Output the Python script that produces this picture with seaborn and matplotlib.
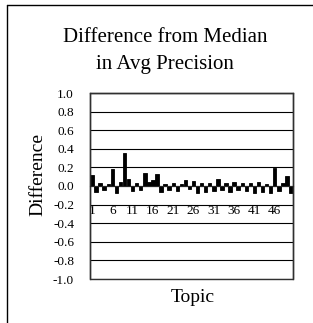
import matplotlib
matplotlib.use('Agg')
from matplotlib import pyplot as plt
from matplotlib.lines import Line2D
from matplotlib.patches import Rectangle
import seaborn as sns
import pandas as pd

# topic numbers and difference from median in average precision
topics = list(range(1, 51))
diffs = [0.12, -0.06, 0.03, -0.04, 0.02, 0.18, -0.08, 0.04, 0.35, 0.07,
         -0.05, 0.03, -0.04, 0.14, 0.04, 0.06, 0.13, -0.06, 0.02, -0.04,
         0.03, -0.05, 0.02, 0.06, -0.03, 0.05, -0.07, 0.03, -0.06, 0.03,
         -0.05, 0.08, -0.04, 0.03, -0.06, 0.04, -0.04, 0.03, -0.05, 0.03,
         -0.07, 0.04, -0.06, 0.02, -0.08, 0.19, -0.05, 0.03, 0.11, -0.07]
y_ticks = [-1.0, -0.8, -0.6, -0.4, -0.2, 0.0, 0.2, 0.4, 0.6, 0.8, 1.0]
x_labels = [str(t) for t in topics[::5]]

df = pd.DataFrame({'topic': topics, 'diff': diffs})

sns.set_style('white')
plt.rcParams['font.family'] = ['Liberation Serif', 'DejaVu Serif']
plt.rcParams['text.color'] = 'black'
plt.rcParams['axes.labelcolor'] = 'black'
plt.rcParams['xtick.color'] = 'black'
plt.rcParams['ytick.color'] = 'black'

fig = plt.figure(figsize=(3.13, 3.23), dpi=100)
ax = fig.add_axes([90 / 313, 1 - 279 / 323, 203 / 313, 186 / 323])

sns.barplot(data=df, x='topic', y='diff', color='black', width=0.85,
            saturation=1, edgecolor='black', linewidth=0.6, ax=ax)

ax.set_ylim(-1.0, 1.0)
ax.set_xlim(-0.5, len(topics) - 0.5)
ax.set_yticks(y_ticks)
ax.set_yticklabels(['%.1f' % v for v in y_ticks], fontsize=9.5)
ax.tick_params(axis='y', length=0, pad=11.5)

# category axis crosses at zero, labels hang below
ax.spines['bottom'].set_position(('data', 0))
ax.spines['bottom'].set_linewidth(0.8)
ax.set_xticks(range(0, len(topics), 5))
ax.set_xticklabels(x_labels, fontsize=9.5)
ax.tick_params(axis='x', length=0, pad=14)

ax.grid(axis='y', color='black', linewidth=0.8)
ax.set_axisbelow(True)
for s in ['left', 'right', 'top']:
    ax.spines[s].set_color('#303030')
    ax.spines[s].set_linewidth(1.0)
# plot-area frame
ax.add_patch(Rectangle((0, 0), 1, 1, transform=ax.transAxes, fill=False,
                       edgecolor='#303030', linewidth=1.0, clip_on=False))

ax.set_xlabel('')
ax.set_ylabel('Difference', fontsize=14)
ax.yaxis.set_label_coords(-(90 - 46) / 203, (279 - 175) / 186)
fig.text(193 / 313, 1 - 297 / 323, 'Topic', fontsize=14, ha='center', va='center')

fig.text(165 / 313, 1 - 38 / 323, 'Difference from Median', fontsize=15,
         ha='center', va='center')
fig.text(165 / 313, 1 - 65 / 323, 'in Avg Precision', fontsize=15,
         ha='center', va='center')

# outer chart frame (only left and top visible in the crop)
fig.add_artist(Line2D([7 / 313, 1.0], [1 - 5 / 323, 1 - 5 / 323],
                      transform=fig.transFigure, color='black', linewidth=1.0))
fig.add_artist(Line2D([7 / 313, 7 / 313], [0.0, 1 - 5 / 323],
                      transform=fig.transFigure, color='black', linewidth=1.0))

fig.savefig('out.png', dpi=100)
